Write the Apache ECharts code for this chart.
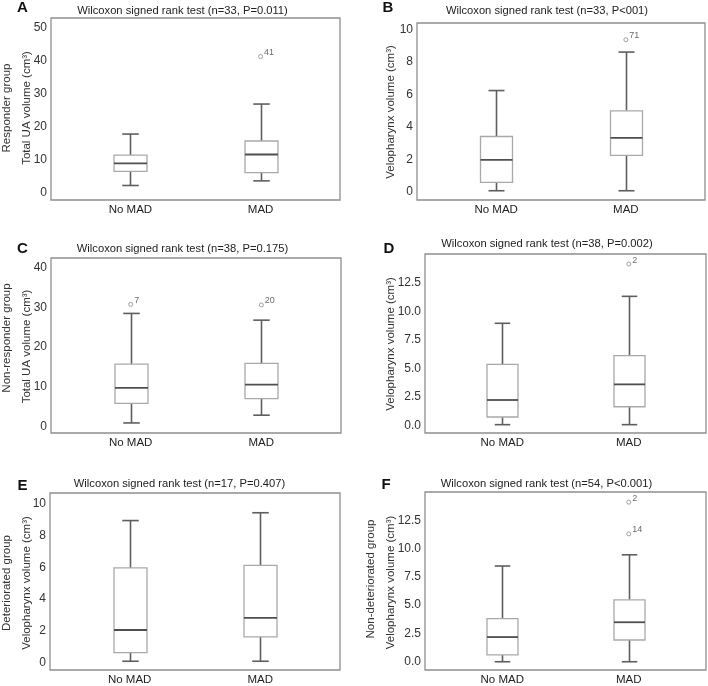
<!DOCTYPE html>
<html>
<head>
<meta charset="utf-8">
<script src="https://cdn.jsdelivr.net/npm/echarts@6/dist/echarts.min.js"></script>
<style>html,body{margin:0;padding:0;background:#fff;}#c{width:708px;height:686px;}</style>
</head>
<body>
<div id="c"></div>
<script>
// ---- data ----
const categories = ['No MAD', 'MAD'];
// [low whisker, Q1, median, Q3, high whisker]
const boxA = [[2.2, 6.5, 8.9, 11.4, 17.8], [3.6, 6.1, 11.6, 15.7, 26.9]];
const boxB = [[0.08, 0.6, 1.98, 3.42, 6.25], [0.08, 2.26, 3.33, 5.0, 8.62]];
const boxC = [[0.84, 5.8, 9.7, 15.7, 28.5], [2.8, 7.0, 10.5, 15.9, 26.8]];
const boxD = [[0.09, 0.76, 2.25, 5.37, 8.97], [0.09, 1.66, 3.62, 6.13, 11.33]];
const boxE = [[0.1, 0.64, 2.06, 5.96, 8.93], [0.1, 1.63, 2.82, 6.12, 9.42]];
const boxF = [[0.0, 0.61, 2.18, 3.81, 8.46], [0.0, 1.92, 3.49, 5.47, 9.45]];
// [category index, value, case label]
const outA = [[1, 41.3, '41']];
const outB = [[1, 9.38, '71']];
const outC = [[0, 30.8, '7'], [1, 30.65, '20']];
const outD = [[1, 14.16, '2']];
const outE = [];
const outF = [[1, 14.1, '2'], [1, 11.3, '14']];
// tick labels
const ticksA = [0, 10, 20, 30, 40, 50];
const ticksB = [0, 2, 4, 6, 8, 10];
const ticksC = [0, 10, 20, 30, 40];
const ticksD = [0, 2.5, 5, 7.5, 10, 12.5];
const ticksE = [0, 2, 4, 6, 8, 10];
const ticksF = [0, 2.5, 5, 7.5, 10, 12.5];
const titles = [
  'Wilcoxon signed rank test (n=33, P=0.011)',
  'Wilcoxon signed rank test (n=33, P<001)',
  'Wilcoxon signed rank test (n=38, P=0.175)',
  'Wilcoxon signed rank test (n=38, P=0.002)',
  'Wilcoxon signed rank test (n=17, P=0.407)',
  'Wilcoxon signed rank test (n=54, P<0.001)'
];
const letters = ['A', 'B', 'C', 'D', 'E', 'F'];
const yNames = [
  'Total UA volume (cm³)', 'Velopharynx volume (cm³)',
  'Total UA volume (cm³)', 'Velopharynx volume (cm³)',
  'Velopharynx volume (cm³)', 'Velopharynx volume (cm³)'
];
const groupNames = ['Responder group', null, 'Non-responder group', null, 'Deteriorated group', 'Non-deteriorated group'];

// ---- layout (not data) ----
const FONT = '"Liberation Sans", Arial, Helvetica, sans-serif';
const panels = [
  {box: boxA, out: outA, ticks: ticksA, dec: 0, grid: {left: 51, top: 18, width: 289, height: 182}, y: [-2.2, 53.0], bw: 33,
   title: [182.5, 11], letter: [22.5, 8], yname: [27, 108], group: [7, 108]},
  {box: boxB, out: outB, ticks: ticksB, dec: 0, grid: {left: 417, top: 23, width: 288, height: 177}, y: [-0.49, 10.41], bw: 32,
   title: [547, 11], letter: [388, 7.5], yname: [391, 112], group: null},
  {box: boxC, out: outC, ticks: ticksC, dec: 0, grid: {left: 51, top: 258, width: 290, height: 175}, y: [-1.7, 42.5], bw: 33,
   title: [182.5, 248.5], letter: [22.5, 248.5], yname: [27, 346.5], group: [7, 338]},
  {box: boxD, out: outD, ticks: ticksD, dec: 1, grid: {left: 425, top: 254, width: 281, height: 179}, y: [-0.64, 15.04], bw: 31,
   title: [547, 244], letter: [389, 248.5], yname: [391, 344], group: null},
  {box: boxE, out: outE, ticks: ticksE, dec: 0, grid: {left: 50, top: 493, width: 290, height: 179}, y: [-0.45, 10.66], bw: 33,
   title: [179.5, 483.5], letter: [22.5, 485.5], yname: [27, 583], group: [7, 583]},
  {box: boxF, out: outF, ticks: ticksF, dec: 1, grid: {left: 425, top: 492, width: 281, height: 180}, y: [-0.73, 15.0], bw: 31,
   title: [546.5, 483.5], letter: [386, 484.5], yname: [391, 582.5], group: [371, 579]}
];

const chart = echarts.init(document.getElementById('c'), null, {renderer: 'canvas'});

const grids = [], xAxes = [], yAxes = [], series = [], graphics = [];
panels.forEach((p, i) => {
  grids.push(Object.assign({show: true, borderColor: '#8f8f8f', borderWidth: 1.3, backgroundColor: '#fff'}, p.grid));
  xAxes.push({
    type: 'value', gridIndex: i, min: -0.61, max: 1.61,
    axisLine: {show: false}, axisTick: {show: false}, splitLine: {show: false},
    axisLabel: {customValues: [0, 1], formatter: v => categories[Math.round(v)] || '',
      fontFamily: FONT, fontSize: 11.5, color: '#222', margin: 4}
  });
  yAxes.push({
    type: 'value', gridIndex: i, min: p.y[0], max: p.y[1],
    axisLine: {show: false}, axisTick: {show: false}, splitLine: {show: false},
    axisLabel: {customValues: p.ticks, formatter: v => v.toFixed(p.dec),
      fontFamily: FONT, fontSize: 12, color: '#333', margin: 4}
  });
  const bw = p.bw;
  series.push({
    type: 'custom', xAxisIndex: i, yAxisIndex: i,
    data: p.box.map((b, k) => [k].concat(b)),
    renderItem: function (params, api) {
      const x = api.value(0);
      const lo = api.coord([x, api.value(1)]);
      const q1 = api.coord([x, api.value(2)]);
      const md = api.coord([x, api.value(3)]);
      const q3 = api.coord([x, api.value(4)]);
      const hi = api.coord([x, api.value(5)]);
      const cx = Math.round(lo[0]) + 0.5;
      const h = bw / 2, c = bw / 4;
      const whisk = {stroke: '#5e5e5e', lineWidth: 1.6};
      return {
        type: 'group',
        children: [
          {type: 'line', shape: {x1: cx, y1: hi[1], x2: cx, y2: q3[1]}, style: whisk},
          {type: 'line', shape: {x1: cx, y1: q1[1], x2: cx, y2: lo[1]}, style: whisk},
          {type: 'line', shape: {x1: cx - c, y1: hi[1], x2: cx + c, y2: hi[1]}, style: whisk},
          {type: 'line', shape: {x1: cx - c, y1: lo[1], x2: cx + c, y2: lo[1]}, style: whisk},
          {type: 'rect', shape: {x: cx - h, y: q3[1], width: bw, height: q1[1] - q3[1]},
           style: {fill: '#fff', stroke: '#a9a9a9', lineWidth: 1.3}},
          {type: 'line', shape: {x1: cx - h, y1: md[1], x2: cx + h, y2: md[1]},
           style: {stroke: '#4f4f4f', lineWidth: 1.8}}
        ]
      };
    },
    z: 2
  });
  series.push({
    type: 'scatter', xAxisIndex: i, yAxisIndex: i,
    data: p.out.map(o => [o[0], o[1], o[2]]),
    symbol: 'circle', symbolSize: 4,
    itemStyle: {color: '#fff', borderColor: '#8a8a8a', borderWidth: 1},
    label: {show: true, position: 'right', distance: 1, offset: [0, -4],
      formatter: d => d.value[2], fontFamily: FONT, fontSize: 9, color: '#444'},
    z: 3
  });
  graphics.push({type: 'text', x: p.title[0], y: p.title[1],
    style: {text: titles[i], font: '11.2px ' + FONT, fill: '#222', align: 'center', verticalAlign: 'middle'}});
  graphics.push({type: 'text', x: p.letter[0], y: p.letter[1],
    style: {text: letters[i], font: 'bold 15px ' + FONT, fill: '#111', align: 'center', verticalAlign: 'middle'}});
  graphics.push({type: 'text', x: p.yname[0], y: p.yname[1], rotation: Math.PI / 2,
    style: {text: yNames[i], font: '11.5px ' + FONT, fill: '#333', align: 'center', verticalAlign: 'middle'}});
  if (p.group) {
    graphics.push({type: 'text', x: p.group[0], y: p.group[1], rotation: Math.PI / 2,
      style: {text: groupNames[i], font: '11.5px ' + FONT, fill: '#333', align: 'center', verticalAlign: 'middle'}});
  }
});

chart.setOption({
  animation: false,
  backgroundColor: '#fff',
  grid: grids, xAxis: xAxes, yAxis: yAxes, series: series,
  graphic: graphics
});
</script>
</body>
</html>
